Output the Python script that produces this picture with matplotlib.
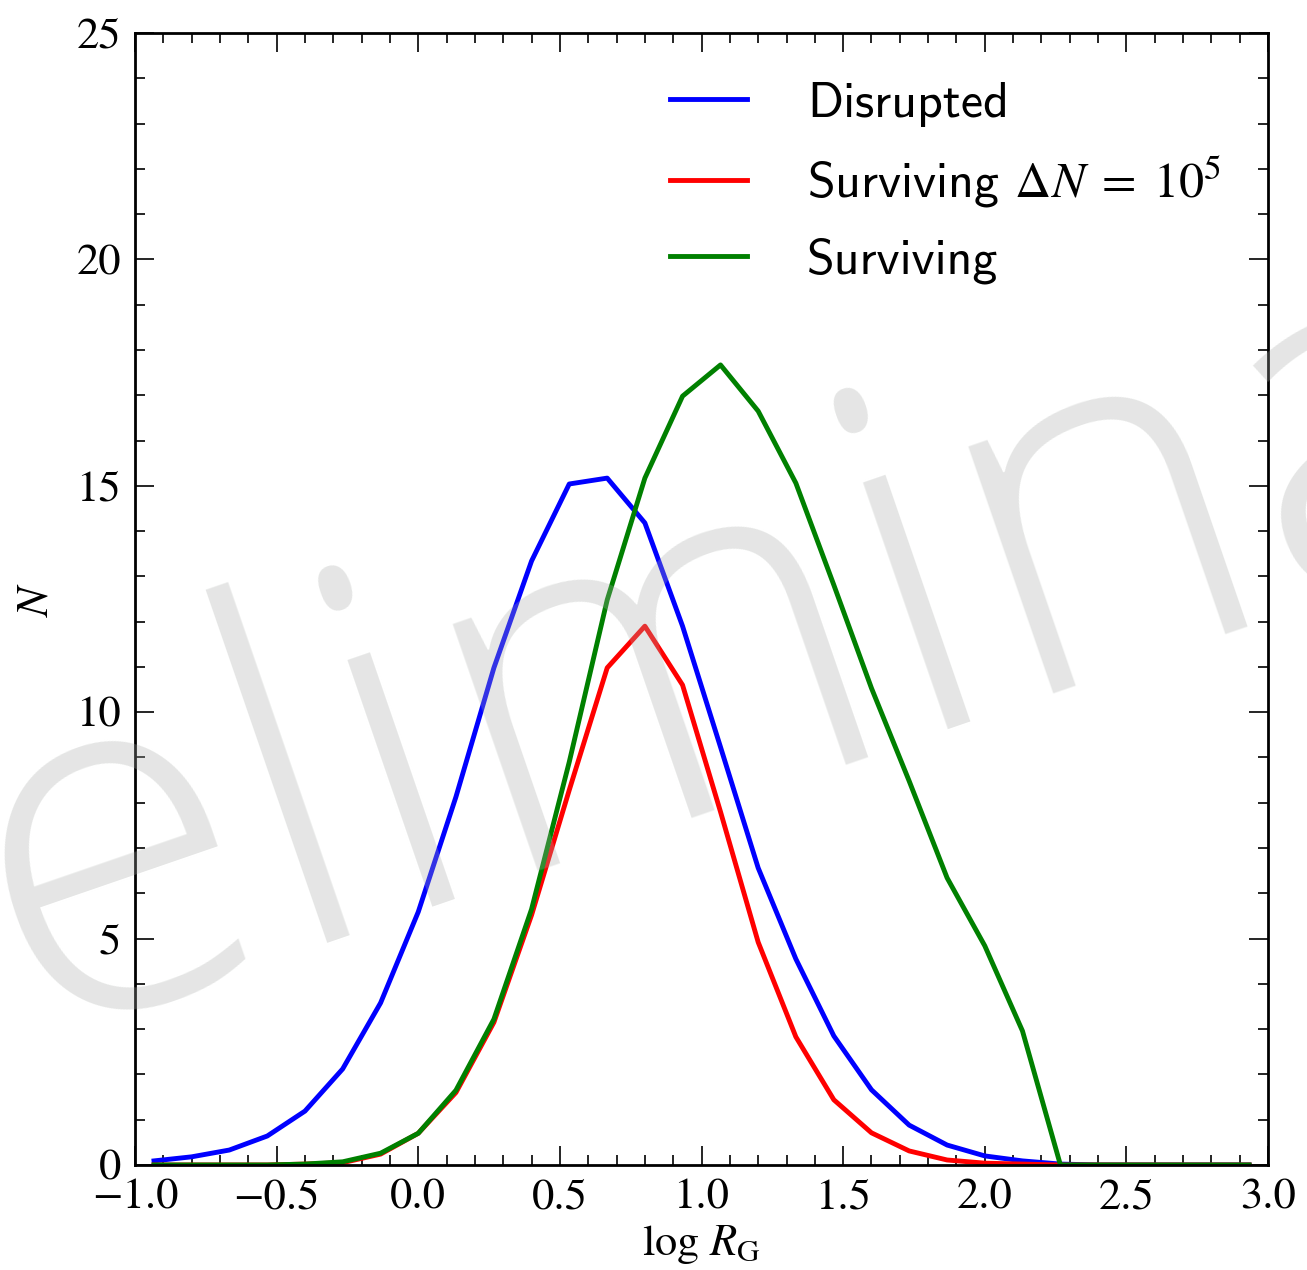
import numpy as np
import matplotlib
matplotlib.use("Agg")
from matplotlib import pyplot as plt
from matplotlib.ticker import MultipleLocator

# bin centres in log R_G (30 bins from -1 to 3)
log_rg = [-0.933, -0.8, -0.667, -0.533, -0.4, -0.267, -0.133, 0.0, 0.133, 0.267,
          0.4, 0.533, 0.667, 0.8, 0.933, 1.067, 1.2, 1.333, 1.467, 1.6,
          1.733, 1.867, 2.0, 2.133, 2.267, 2.4, 2.533, 2.667, 2.8, 2.933]

disrupted = [0.09, 0.18, 0.33, 0.64, 1.19, 2.12, 3.58, 5.59, 8.13, 10.98,
             13.34, 15.04, 15.17, 14.18, 11.9, 9.23, 6.56, 4.55, 2.85, 1.66,
             0.88, 0.44, 0.2, 0.09, 0.02, 0.0, 0.0, 0.0, 0.0, 0.0]

surviving_dn = [0.0, 0.0, 0.0, 0.0, 0.02, 0.05, 0.24, 0.7, 1.6, 3.15,
                5.52, 8.28, 10.98, 11.9, 10.6, 7.8, 4.92, 2.83, 1.44, 0.71,
                0.31, 0.11, 0.04, 0.02, 0.0, 0.0, 0.0, 0.0, 0.0, 0.0]

surviving = [0.0, 0.0, 0.0, 0.0, 0.02, 0.07, 0.26, 0.7, 1.65, 3.22,
             5.65, 8.9, 12.48, 15.17, 16.98, 17.67, 16.65, 15.06, 12.81, 10.53,
             8.48, 6.34, 4.84, 2.96, 0.0, 0.0, 0.0, 0.0, 0.0, 0.0]

labels = ["Disrupted", r"Surviving $\Delta N \;=\; 10^5$", "Surviving"]
colors = ["blue", "red", "green"]

plt.rcParams["mathtext.fontset"] = "stix"
plt.rcParams["font.family"] = ["STIXGeneral", "DejaVu Serif"]

fig = plt.figure(figsize=(13.07, 12.7), dpi=100)
ax = fig.add_axes([0.1033, 0.0827, 0.8669, 0.8913])

for ys, lab, c in zip([disrupted, surviving_dn, surviving], labels, colors):
    ax.plot(log_rg, ys, color=c, lw=3.5, label=lab)

ax.set_xlim(-1.0, 3.0)
ax.set_ylim(0, 25)
ax.xaxis.set_major_locator(MultipleLocator(0.5))
ax.xaxis.set_minor_locator(MultipleLocator(0.1))
ax.yaxis.set_major_locator(MultipleLocator(5))
ax.yaxis.set_minor_locator(MultipleLocator(1))
ax.xaxis.set_major_formatter(plt.FuncFormatter(lambda v, p: ("%.1f" % v).replace("-", "\u2212")))
ax.tick_params(which="both", direction="in", top=True, right=True, labelsize=32, width=1.2)
ax.tick_params(which="major", length=14, pad=10)
ax.tick_params(which="minor", length=7)
for s in ax.spines.values():
    s.set_linewidth(2)

ax.set_xlabel(r"$\log\, R_{\rm G}$", fontsize=32, labelpad=4)
ax.set_ylabel(r"$N$", fontsize=32, labelpad=14)

leg = ax.legend(loc="upper left", bbox_to_anchor=(0.472, 0.957), frameon=False,
                prop={"family": "cmss10", "size": 36}, handlelength=1.55,
                handletextpad=1.2, labelspacing=0.55, borderpad=0, borderaxespad=0)
for t in leg.get_texts():
    t.set_math_fontfamily("stix")

# watermark across the whole figure
fig.text(-0.318, 0.07, "Preliminary", fontsize=354, family="Open Sans", fontweight="light",
         color="#a8aaa8", alpha=0.3, rotation=19, rotation_mode="anchor",
         ha="left", va="baseline", zorder=10)

fig.savefig("out.png", dpi=100)
